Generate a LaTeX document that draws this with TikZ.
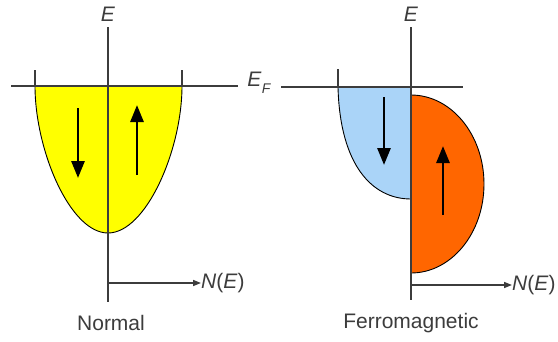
\documentclass[tikz,border=0pt]{standalone}
\usepackage{fontspec}
\setmainfont{Liberation Sans}
\usetikzlibrary{arrows.meta}

\definecolor{bandyellow}{RGB}{255,255,0}
\definecolor{bandblue}{RGB}{170,212,248}
\definecolor{bandorange}{RGB}{255,102,0}
\definecolor{axisgray}{RGB}{60,60,60}

\tikzset{
    axis/.style={line width=1.5pt, draw=axisgray},
    band/.style={line width=0.9pt, draw=black},
    spin/.style={line width=2.8pt, -{Triangle[length=17pt,width=13pt]}},
    lbl/.style={inner sep=0pt, text=axisgray, font=\fontsize{21}{24}\selectfont},
}

\begin{document}
\begin{tikzpicture}[x=1pt, y=-1pt, >={Triangle[length=8pt,width=6pt]}]
    \useasboundingbox (0,0) rectangle (558,341);

    % normal metal
    \draw[band, fill=bandyellow] (35,86) .. controls (35,150) and (70,233) .. (108,233)
        .. controls (146,233) and (182,150) .. (182,86) -- cycle;
    \draw[axis] (35,70) -- (35,86);
    \draw[axis] (182,70) -- (182,86);
    \draw[axis] (11,86) -- (238,86);
    \draw[axis] (108,27) -- (108,302);
    \draw[spin] (78,108) -- (78,178);
    \draw[spin] (137,175) -- (137,105);

    \node[lbl] (eL) at (108,14) {\textit{E}};
    \node[lbl] (eF) at (259,83) {\textit{E\kern0.5pt\raisebox{-0.35em}{\fontsize{14}{14}\selectfont F}}};
    \coordinate (oL) at (108,283);
    \node[lbl, anchor=west] (nL) at (201,283) {\textit{N}(\textit{E})};
    \draw[axis, ->] (oL) -- (nL.west);
    \node[lbl] (normal) at (111,323) {Normal};

    % ferromagnet
    \draw[band, fill=bandblue] (338,87) .. controls (340,165) and (372,199) .. (411,199) -- (411,87) -- cycle;
    \draw[band, fill=bandorange] (411,95) arc[start angle=-90, end angle=90, x radius=73, y radius=89] -- cycle;
    \draw[axis] (338,69) -- (338,87);
    \draw[axis] (281,87) -- (463,87);
    \draw[axis] (411,27) -- (411,300);
    \draw[spin] (384,97) -- (384,165);
    \draw[spin] (443,215) -- (443,146);

    \node[lbl] (eR) at (411,14) {\textit{E}};
    \coordinate (oR) at (411,285);
    \node[lbl, anchor=west] (nR) at (512,285) {\textit{N}(\textit{E})};
    \draw[axis, ->] (oR) -- (nR.west);
    \node[lbl] (ferro) at (411,323) {Ferromagnetic};
\end{tikzpicture}
\end{document}
